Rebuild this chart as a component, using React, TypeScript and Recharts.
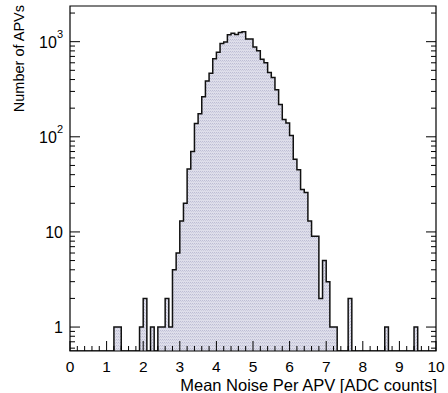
import React from 'react';
import { ComposedChart, Area, XAxis, YAxis, ReferenceArea } from 'recharts';

// Histogram: 100 bins of width 0.1 between 0 and 10
const binLow = 0;
const binWidth = 0.1;
const binCounts = [
  0, 0, 0, 0, 0, 0, 0, 0, 0, 0,
  0, 0, 1, 1, 0, 0, 0, 0, 0, 1,
  2, 0, 1, 0, 1, 1, 2, 1, 4, 6,
  13, 20, 46, 70, 138, 175, 263, 385, 465, 660,
  775, 955, 990, 1180, 1230, 1190, 1250, 1275, 1070, 1070,
  880, 805, 655, 600, 475, 420, 312, 218, 152, 140,
  103, 58, 45, 28, 26, 13, 9, 9, 2, 5,
  3, 1, 1, 0, 0, 0, 2, 0, 0, 0,
  0, 0, 0, 0, 0, 0, 1, 0, 0, 0,
  0, 0, 0, 0, 1, 0, 0, 0, 0, 0,
];

const xDomain = [0, 10];
const xMajorLabels = ['0', '1', '2', '3', '4', '5', '6', '7', '8', '9', '10'];
const xTicks = [
  0, 0.2, 0.4, 0.6, 0.8, 1, 1.2, 1.4, 1.6, 1.8, 2, 2.2, 2.4, 2.6, 2.8, 3, 3.2, 3.4, 3.6, 3.8,
  4, 4.2, 4.4, 4.6, 4.8, 5, 5.2, 5.4, 5.6, 5.8, 6, 6.2, 6.4, 6.6, 6.8, 7, 7.2, 7.4, 7.6, 7.8,
  8, 8.2, 8.4, 8.6, 8.8, 9, 9.2, 9.4, 9.6, 9.8, 10,
];
const yDomain = [0.56, 2372];
const yTicks = [
  0.6, 0.7, 0.8, 0.9, 1, 2, 3, 4, 5, 6, 7, 8, 9, 10, 20, 30, 40, 50, 60, 70, 80, 90,
  100, 200, 300, 400, 500, 600, 700, 800, 900, 1000, 2000,
];
const yMajorLabels: Record<number, [string, string]> = {
  1: ['1', ''],
  10: ['10', ''],
  100: ['10', '2'],
  1000: ['10', '3'],
};

const xTitle = 'Mean Noise Per APV [ADC counts]';
const yTitle = 'Number of APVs';

const FONT = '"Liberation Sans", Arial, Helvetica, sans-serif';

// table for the step area (zero bins drawn at the frame floor, like ROOT)
const table = binCounts.map((n, k) => ({
  x: binLow + k * binWidth,
  n: n > 0 ? n : yDomain[0],
}));
table.push({ x: binLow + binCounts.length * binWidth, n: table[table.length - 1].n });

const isInt = (v: number) => Math.abs(v - Math.round(v)) < 1e-6;

const XTick = (props: any) => {
  const { x, y, payload } = props;
  const v = payload.value as number;
  const major = isInt(v);
  return (
    <g>
      <line x1={x} x2={x} y1={y} y2={y - (major ? 10 : 5)} stroke="#000" strokeWidth={1} />
      {major && (
        <text x={x} y={y + 21} textAnchor="middle" fontSize={15.5} fontFamily={FONT} fill="#000">
          {xMajorLabels[Math.round(v)]}
        </text>
      )}
    </g>
  );
};

const YTickLeft = (props: any) => {
  const { x, y, payload } = props;
  const v = payload.value as number;
  const lbl = yMajorLabels[v];
  return (
    <g>
      <line x1={x} x2={x + (lbl ? 10 : 5)} y1={y} y2={y} stroke="#000" strokeWidth={1} />
      {lbl && (
        <text x={x - 7} y={y + 6} textAnchor="end" fontSize={16} fontFamily={FONT} fill="#000">
          {lbl[0]}
          {lbl[1] && (
            <tspan fontSize={11} dy={-10}>
              {lbl[1]}
            </tspan>
          )}
        </text>
      )}
    </g>
  );
};

const YTickRight = (props: any) => {
  const { x, y, payload } = props;
  const v = payload.value as number;
  const major = !!yMajorLabels[v];
  return <line x1={x} x2={x - (major ? 10 : 5)} y1={y} y2={y} stroke="#000" strokeWidth={1} />;
};

export default function App() {
  return (
    <div style={{ position: 'absolute', left: 0, top: 0, width: 448, height: 393, background: '#fff' }}>
      <ComposedChart
        width={448}
        height={393}
        data={table}
        margin={{ top: 6, right: 0, bottom: 0, left: 0 }}
      >
        <defs>
          <pattern id="histFill" width="2" height="3" patternUnits="userSpaceOnUse">
            <rect x="0" y="0" width="2" height="3" fill="#dedeea" />
            <rect x="0" y="0" width="1" height="1" fill="#bdbdd4" />
            <rect x="1" y="1" width="1" height="1" fill="#cbcbde" />
          </pattern>
        </defs>
        <XAxis
          dataKey="x"
          type="number"
          domain={xDomain}
          allowDataOverflow
          ticks={xTicks}
          interval={0}
          tick={<XTick />}
          tickLine={false}
          tickSize={0}
          tickMargin={0}
          axisLine={false}
          height={42}
        />
        <YAxis
          scale="log"
          type="number"
          domain={yDomain}
          allowDataOverflow
          ticks={yTicks}
          interval={0}
          tick={<YTickLeft />}
          tickLine={false}
          tickSize={0}
          tickMargin={0}
          axisLine={false}
          width={70}
        />
        <YAxis
          yAxisId="r"
          orientation="right"
          scale="log"
          type="number"
          domain={yDomain}
          allowDataOverflow
          ticks={yTicks}
          interval={0}
          tick={<YTickRight />}
          tickLine={false}
          tickSize={0}
          tickMargin={0}
          axisLine={false}
          width={12}
        />
        <Area
          type="stepAfter"
          dataKey="n"
          baseValue={yDomain[0]}
          stroke="#111"
          strokeWidth={1.5}
          fill="url(#histFill)"
          fillOpacity={1}
          dot={false}
          activeDot={false}
          isAnimationActive={false}
        />
        <ReferenceArea
          x1={xDomain[0]}
          x2={xDomain[1]}
          y1={yDomain[0]}
          y2={yDomain[1]}
          fill="none"
          stroke="#000"
          strokeWidth={1.2}
          ifOverflow="visible"
        />
        <text
          x={437}
          y={391}
          textAnchor="end"
          fontSize={16.5}
          fontFamily={FONT}
          fill="#000"
        >
          {xTitle}
        </text>
        <text
          transform="rotate(-90)"
          x={-5}
          y={24}
          textAnchor="end"
          fontSize={14.5}
          fontFamily={FONT}
          fill="#000"
        >
          {yTitle}
        </text>
      </ComposedChart>
    </div>
  );
}
